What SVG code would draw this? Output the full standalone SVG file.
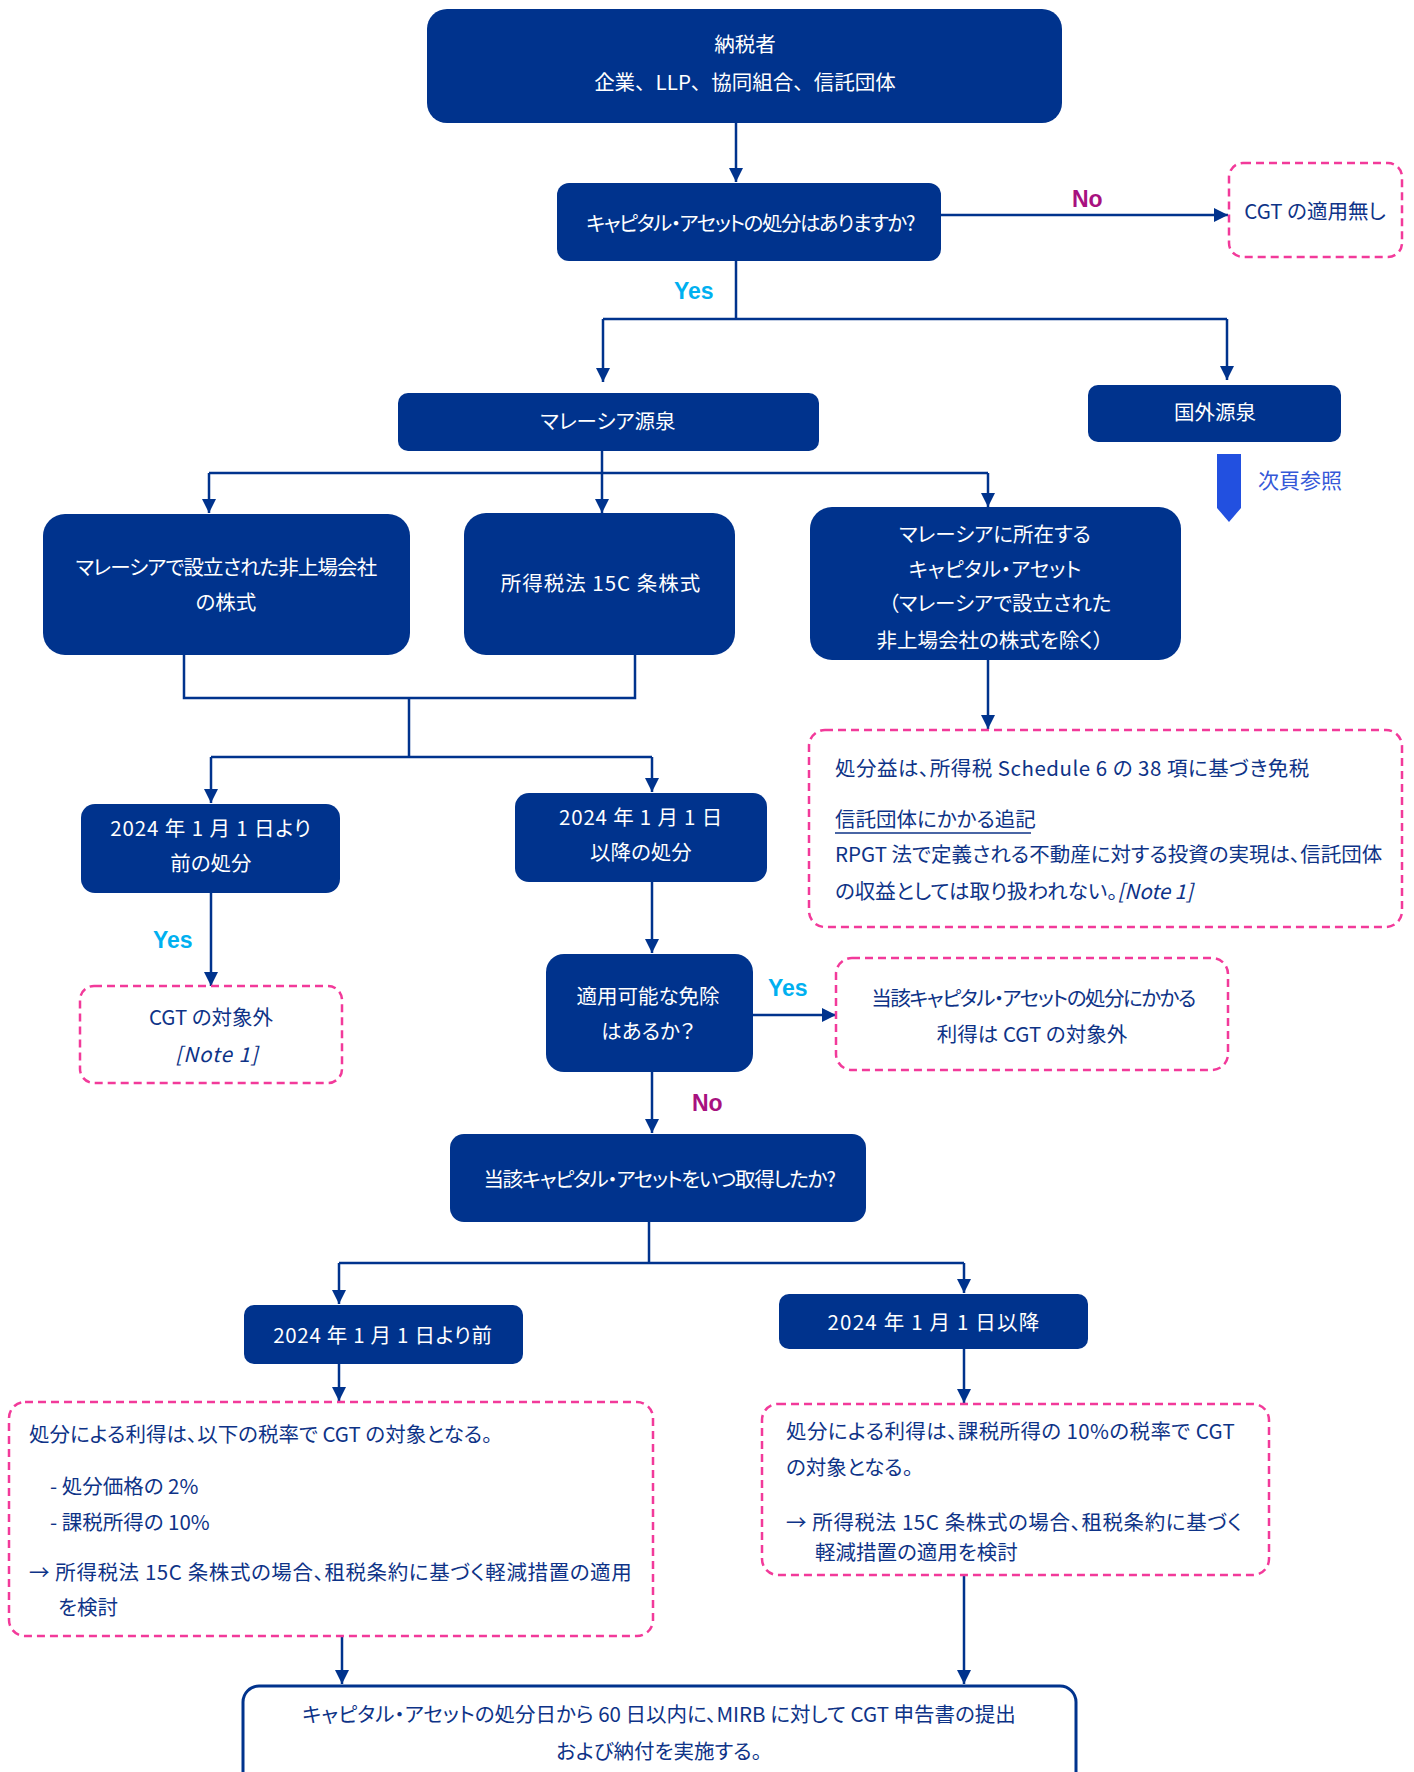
<svg xmlns="http://www.w3.org/2000/svg" width="1414" height="1772" viewBox="0 0 1414 1772">
  <defs>
    <marker id="arrow" markerUnits="userSpaceOnUse" markerWidth="14" markerHeight="16" refX="14" refY="7" orient="auto">
      <path d="M0,0 L14,7 L0,14 z" fill="#00338D"/>
    </marker>
    <style>
      text { font-family: "Noto Sans CJK JP", "Noto Sans", sans-serif; font-feature-settings: "palt"; }
      .solid { fill: #00338D; }
      .dash { fill: #FFFFFF; stroke: #F23A9A; stroke-width: 2.5; stroke-dasharray: 8 5; }
      .wt { fill: #FFFFFF; font-size: 20.5px; text-anchor: middle; }
      .nt { fill: #0E3387; font-size: 20.5px; }
      .ntc { fill: #0E3387; font-size: 20.5px; text-anchor: middle; }
      .yes { fill: #00B0F0; font-size: 23px; font-weight: bold; font-family: "Liberation Sans", sans-serif; }
      .no { fill: #A8117F; font-size: 23px; font-weight: bold; font-family: "Liberation Sans", sans-serif; }
      .conn { fill: none; stroke: #00338D; stroke-width: 2.5; }
      .it { font-style: italic; }
      .full { font-feature-settings: normal; }
      .tight { letter-spacing: -1.5px; }
      .wide { letter-spacing: 1px; }
    </style>
  </defs>

  <!-- connectors -->
  <g id="connectors" class="conn">
    <path d="M736,123 V182" marker-end="url(#arrow)"/>
    <path d="M941,215 H1228" marker-end="url(#arrow)"/>
    <path d="M736,261 V319"/>
    <path d="M603,319 H1227"/>
    <path d="M603,319 V382" marker-end="url(#arrow)"/>
    <path d="M1227,319 V380" marker-end="url(#arrow)"/>
    <path d="M602,451 V473"/>
    <path d="M209,473 H988"/>
    <path d="M209,473 V513" marker-end="url(#arrow)"/>
    <path d="M602,473 V513" marker-end="url(#arrow)"/>
    <path d="M988,473 V507" marker-end="url(#arrow)"/>
    <path d="M988,660 V729" marker-end="url(#arrow)"/>
    <path d="M184,655 V698 H635 V655"/>
    <path d="M409,698 V757"/>
    <path d="M211,757 H652"/>
    <path d="M211,757 V803" marker-end="url(#arrow)"/>
    <path d="M652,757 V792" marker-end="url(#arrow)"/>
    <path d="M211,893 V986" marker-end="url(#arrow)"/>
    <path d="M652,882 V953" marker-end="url(#arrow)"/>
    <path d="M753,1015 H836" marker-end="url(#arrow)"/>
    <path d="M652,1072 V1133" marker-end="url(#arrow)"/>
    <path d="M649,1222 V1263"/>
    <path d="M339,1263 H964"/>
    <path d="M339,1263 V1304" marker-end="url(#arrow)"/>
    <path d="M964,1263 V1293" marker-end="url(#arrow)"/>
    <path d="M339,1364 V1401" marker-end="url(#arrow)"/>
    <path d="M964,1349 V1403" marker-end="url(#arrow)"/>
    <path d="M342,1636 V1684" marker-end="url(#arrow)"/>
    <path d="M964,1575 V1684" marker-end="url(#arrow)"/>
  </g>

  <!-- branch labels -->
  <g id="labels">
    <text class="no" x="1072" y="207">No</text>
    <text class="yes" x="674" y="299">Yes</text>
    <text class="yes" x="153" y="948">Yes</text>
    <text class="yes" x="768" y="996">Yes</text>
    <text class="no" x="692" y="1111">No</text>
  </g>

  <g id="taxpayer">
    <rect class="solid" x="427" y="9" width="635" height="114" rx="20"/>
    <text class="wt" x="745" y="52">納税者</text>
    <text class="wt full" x="745" y="90">企業、LLP、協同組合、信託団体</text>
  </g>

  <g id="q-disposal">
    <rect class="solid" x="557" y="183" width="384" height="78" rx="12"/>
    <text class="wt tight" x="750" y="231">キャピタル・アセットの処分はありますか?</text>
  </g>

  <g id="no-cgt">
    <rect class="dash" x="1229" y="163" width="173" height="94" rx="14"/>
    <text class="ntc" x="1315" y="219">CGT の適用無し</text>
  </g>

  <g id="malaysia-source">
    <rect class="solid" x="398" y="393" width="421" height="58" rx="10"/>
    <text class="wt" x="608" y="429">マレーシア源泉</text>
  </g>

  <g id="foreign-source">
    <rect class="solid" x="1088" y="385" width="253" height="57" rx="10"/>
    <text class="wt" x="1215" y="420">国外源泉</text>
  </g>

  <g id="next-page">
    <polygon points="1217,454 1241,454 1241,508 1229,522 1217,508" fill="#2250E0"/>
    <text x="1258" y="488" font-size="21" fill="#3558D8">次頁参照</text>
  </g>

  <g id="unlisted-shares">
    <rect class="solid" x="43" y="514" width="367" height="141" rx="22"/>
    <text class="wt" x="226" y="575" letter-spacing="-0.9">マレーシアで設立された非上場会社</text>
    <text class="wt" x="226" y="610">の株式</text>
  </g>

  <g id="s15c-shares">
    <rect class="solid" x="464" y="513" width="271" height="142" rx="22"/>
    <text class="wt wide" x="601" y="591">所得税法 15C 条株式</text>
  </g>

  <g id="malaysia-assets">
    <rect class="solid" x="810" y="507" width="371" height="153" rx="22"/>
    <text class="wt" x="995" y="542">マレーシアに所在する</text>
    <text class="wt" x="995" y="577">キャピタル・アセット</text>
    <text class="wt" x="1000" y="611">（マレーシアで設立された</text>
    <text class="wt" x="990" y="648">非上場会社の株式を除く）</text>
  </g>

  <g id="schedule6-exempt">
    <rect class="dash" x="809" y="730" width="593" height="197" rx="16"/>
    <text class="nt" x="835" y="776" letter-spacing="0.5">処分益は、所得税 Schedule 6 の 38 項に基づき免税</text>
    <text class="nt" x="835" y="827">信託団体にかかる追記</text>
    <line x1="835" y1="833" x2="1031" y2="833" stroke="#0E3387" stroke-width="1.5"/>
    <text class="nt" x="835" y="862">RPGT 法で定義される不動産に対する投資の実現は、信託団体</text>
    <text class="nt" x="835" y="899">の収益としては取り扱われない。<tspan class="it">[Note 1]</tspan></text>
  </g>

  <g id="before-2024-disposal">
    <rect class="solid" x="81" y="804" width="259" height="89" rx="14"/>
    <text class="wt" x="211" y="836" letter-spacing="0.9">2024 年 1 月 1 日より</text>
    <text class="wt" x="211" y="871">前の処分</text>
  </g>

  <g id="after-2024-disposal">
    <rect class="solid" x="515" y="793" width="252" height="89" rx="14"/>
    <text class="wt" x="641" y="825" letter-spacing="0.8">2024 年 1 月 1 日</text>
    <text class="wt" x="641" y="860">以降の処分</text>
  </g>

  <g id="out-of-scope">
    <rect class="dash" x="80" y="986" width="262" height="97" rx="14"/>
    <text class="ntc" x="211" y="1025">CGT の対象外</text>
    <text class="ntc it" x="217" y="1062" letter-spacing="1">[Note 1]</text>
  </g>

  <g id="q-exemption">
    <rect class="solid" x="546" y="954" width="207" height="118" rx="18"/>
    <text class="wt" x="648" y="1004">適用可能な免除</text>
    <text class="wt" x="648" y="1039">はあるか？</text>
  </g>

  <g id="exempt-gain">
    <rect class="dash" x="836" y="958" width="392" height="112" rx="16"/>
    <text class="ntc tight" x="1033" y="1006">当該キャピタル・アセットの処分にかかる</text>
    <text class="ntc" x="1032" y="1042">利得は CGT の対象外</text>
  </g>

  <g id="q-acquired">
    <rect class="solid" x="450" y="1134" width="416" height="88" rx="14"/>
    <text class="wt" x="659" y="1187" letter-spacing="-1.3">当該キャピタル・アセットをいつ取得したか?</text>
  </g>

  <g id="acquired-before">
    <rect class="solid" x="244" y="1305" width="279" height="59" rx="10"/>
    <text class="wt" x="383" y="1343" letter-spacing="0.7">2024 年 1 月 1 日より前</text>
  </g>

  <g id="acquired-after">
    <rect class="solid" x="779" y="1294" width="309" height="55" rx="10"/>
    <text class="wt" x="934" y="1330" letter-spacing="1.2">2024 年 1 月 1 日以降</text>
  </g>

  <g id="rate-before">
    <rect class="dash" x="9" y="1402" width="644" height="234" rx="16"/>
    <text class="nt" x="29" y="1442">処分による利得は、以下の税率で CGT の対象となる。</text>
    <text class="nt" x="50" y="1494">- 処分価格の 2%</text>
    <text class="nt" x="50" y="1530">- 課税所得の 10%</text>
    <text class="nt" x="29" y="1580" letter-spacing="0.6">→ 所得税法 15C 条株式の場合、租税条約に基づく軽減措置の適用</text>
    <text class="nt" x="58" y="1615">を検討</text>
  </g>

  <g id="rate-after">
    <rect class="dash" x="762" y="1404" width="507" height="171" rx="16"/>
    <text class="nt" x="786" y="1439" letter-spacing="0.4">処分による利得は、課税所得の 10%の税率で CGT</text>
    <text class="nt" x="786" y="1475">の対象となる。</text>
    <text class="nt" x="786" y="1530" letter-spacing="0.6">→ 所得税法 15C 条株式の場合、租税条約に基づく</text>
    <text class="nt" x="815" y="1560">軽減措置の適用を検討</text>
  </g>

  <g id="filing">
    <rect x="243" y="1686" width="833" height="110" rx="16" fill="#FFFFFF" stroke="#00338D" stroke-width="3"/>
    <text class="ntc" x="659" y="1722">キャピタル・アセットの処分日から 60 日以内に、MIRB に対して CGT 申告書の提出</text>
    <text class="ntc" x="659" y="1759">および納付を実施する。</text>
  </g>
</svg>
